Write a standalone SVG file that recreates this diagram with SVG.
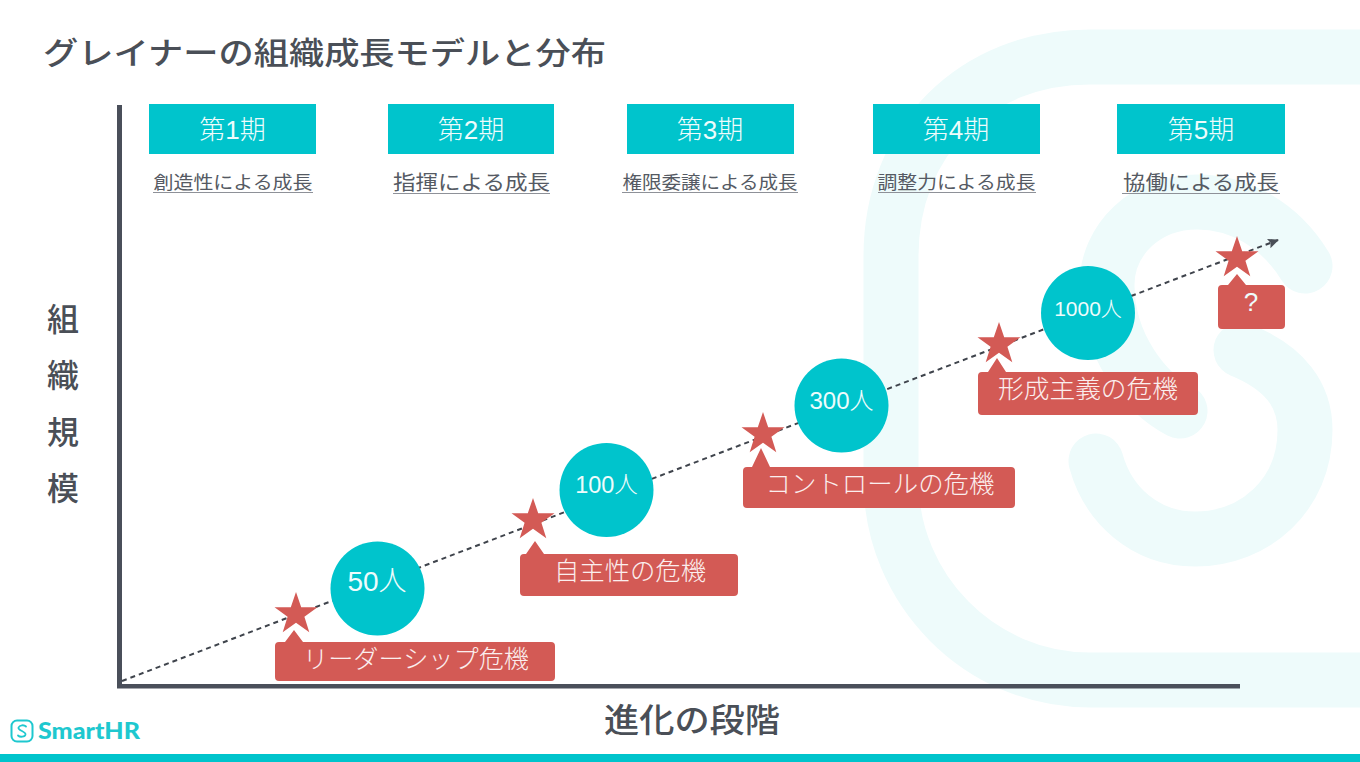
<svg xmlns="http://www.w3.org/2000/svg" width="1360" height="762" viewBox="0 0 1360 762">
<style>
text{font-family:"Noto Sans CJK JP","Noto Sans",sans-serif;text-anchor:middle}
.bg{fill:none;stroke:#eefbfb;stroke-width:55;stroke-linecap:round}
.hd{fill:#00c4cc}
.ht{fill:#eefcfc;font-size:26px;font-weight:300;font-family:"Liberation Sans","Noto Sans CJK JP",sans-serif}
.sub{fill:#555a63;font-size:18px}
.ul{stroke:#8e9198;stroke-width:1.2}
.cir{fill:#00c4cc}
.ct{fill:#eefcfc;font-weight:300;font-family:"Liberation Sans","Noto Sans CJK JP",sans-serif}
.red{fill:#d35a55}
.rt{fill:#fbeeee;font-size:25px;font-weight:300}
.ax{fill:#4a4f5a}
.lab{fill:#4a4f57;font-weight:500}
</style>
<defs>
<marker id="ah" markerUnits="userSpaceOnUse" markerWidth="12" markerHeight="10" refX="10" refY="5" orient="auto"><path d="M0,0L11,5L0,10L2,5Z" fill="#4a4f57"/></marker>
<path id="star" d="M0,-22L5.2,-6.8L21.5,-6.8L8.4,2.8L13.3,18.2L0,8.8L-13.3,18.2L-8.4,2.8L-21.5,-6.8L-5.2,-6.8Z"/>
</defs>
<g id="background-mark">
<path class="bg" d="M1360,57H1090C975,57 891,140 891,256V480C891,590 980,680 1090,680H1360"/>
<path class="bg" d="M1305,266C1280,225 1240,202 1197,202C1145,202 1107,240 1107,285C1107,345 1145,393 1180,411"/>
<path class="bg" d="M1241,350C1285,368 1305,395 1305,430C1305,495 1255,539 1195,539C1145,539 1108,505 1096,461"/>
</g>
<text id="title" x="324.500" y="64" class="lab" style="font-size:31px" textLength="563" lengthAdjust="spacingAndGlyphs">グレイナーの組織成長モデルと分布</text>
<g id="axes">
<rect class="ax" x="117" y="105" width="5" height="583"/>
<rect class="ax" x="117" y="684" width="1123" height="4.500"/>
</g>
<g id="connectors">
<path d="M122,681L1278,240" fill="none" stroke="#3f444c" stroke-width="2" stroke-dasharray="5 4" marker-end="url(#ah)"/>
</g>
<g id="y-label" class="lab" style="font-size:32px">
<text x="63" y="331" class="lab">組</text><text x="63" y="387" class="lab">織</text><text x="63" y="444" class="lab">規</text><text x="63" y="500" class="lab">模</text>
</g>
<text id="x-label" x="692" y="732" class="lab" style="font-size:33px" textLength="176" lengthAdjust="spacingAndGlyphs">進化の段階</text>
<g id="period-1"><rect class="hd" x="149" y="104" width="167" height="50"/><text class="ht" x="232.500" y="139">第1期</text><text class="sub" x="233" y="189" textLength="159" lengthAdjust="spacingAndGlyphs">創造性による成長</text><path class="ul" d="M153,192.500H313"/></g>
<g id="period-2"><rect class="hd" x="388" y="104" width="166" height="50"/><text class="ht" x="471" y="139">第2期</text><text class="sub" x="471.500" y="190" textLength="157" lengthAdjust="spacingAndGlyphs" style="font-size:20px">指揮による成長</text><path class="ul" d="M393,193.500H550"/></g>
<g id="period-3"><rect class="hd" x="627" y="104" width="167" height="50"/><text class="ht" x="710" y="139">第3期</text><text class="sub" x="710" y="189" textLength="175" lengthAdjust="spacingAndGlyphs">権限委譲による成長</text><path class="ul" d="M622,192.500H798"/></g>
<g id="period-4"><rect class="hd" x="873" y="104" width="167" height="50"/><text class="ht" x="956" y="139">第4期</text><text class="sub" x="956.500" y="189" textLength="158" lengthAdjust="spacingAndGlyphs">調整力による成長</text><path class="ul" d="M878,192.500H1036"/></g>
<g id="period-5"><rect class="hd" x="1117" y="104" width="168" height="50"/><text class="ht" x="1201" y="139">第5期</text><text class="sub" x="1201" y="190" textLength="156" lengthAdjust="spacingAndGlyphs" style="font-size:20px">協働による成長</text><path class="ul" d="M1122,193.500H1280"/></g>
<g id="size-50"><circle class="cir" cx="377.500" cy="588.500" r="47"/><text class="ct" x="377" y="591" style="font-size:28px">50人</text></g>
<g id="size-100"><circle class="cir" cx="606.500" cy="490" r="47"/><text class="ct" x="606.500" y="493" style="font-size:23.500px">100人</text></g>
<g id="size-300"><circle class="cir" cx="841.500" cy="405.500" r="47"/><text class="ct" x="841.500" y="409" style="font-size:24px">300人</text></g>
<g id="size-1000"><circle class="cir" cx="1088" cy="313" r="47"/><text class="ct" x="1088" y="316" style="font-size:21px">1000人</text></g>
<g id="crisis-1"><use href="#star" class="red" x="296" y="614"/><path class="red" d="M279,642H285L294,630L303,642H551a4,4 0 0 1 4,4V677a4,4 0 0 1 -4,4H279a4,4 0 0 1 -4,-4V646a4,4 0 0 1 4,-4Z"/><text class="rt" x="416" y="668" textLength="226" lengthAdjust="spacingAndGlyphs">リーダーシップ危機</text></g>
<g id="crisis-2"><use href="#star" class="red" x="533" y="520"/><path class="red" d="M524,554H526L535,541L544,554H734a4,4 0 0 1 4,4V592a4,4 0 0 1 -4,4H524a4,4 0 0 1 -4,-4V558a4,4 0 0 1 4,-4Z"/><text class="rt" x="630" y="580" textLength="152" lengthAdjust="spacingAndGlyphs">自主性の危機</text></g>
<g id="crisis-3"><use href="#star" class="red" x="763" y="434"/><path class="red" d="M747,467H752L761,448L770,467H1011a4,4 0 0 1 4,4V504a4,4 0 0 1 -4,4H747a4,4 0 0 1 -4,-4V471a4,4 0 0 1 4,-4Z"/><text class="rt" x="880" y="493" textLength="229" lengthAdjust="spacingAndGlyphs">コントロールの危機</text></g>
<g id="crisis-4"><use href="#star" class="red" x="999" y="344"/><path class="red" d="M982,372H988L997,358L1006,372H1194a4,4 0 0 1 4,4V411a4,4 0 0 1 -4,4H982a4,4 0 0 1 -4,-4V376a4,4 0 0 1 4,-4Z"/><text class="rt" x="1088" y="398" textLength="180" lengthAdjust="spacingAndGlyphs">形成主義の危機</text></g>
<g id="crisis-5"><use href="#star" class="red" x="1237" y="258"/><path class="red" d="M1222,285H1228L1237,274L1246,285H1281a4,4 0 0 1 4,4V325a4,4 0 0 1 -4,4H1222a4,4 0 0 1 -4,-4V289a4,4 0 0 1 4,-4Z"/><text class="ct" x="1251" y="311" style="font-size:26px">?</text></g>
<g id="logo">
<rect x="11.500" y="720.500" width="21" height="21" rx="5.500" fill="none" stroke="#1ec8cf" stroke-width="2"/>
<path d="M26,726.500C24,724.500 19.500,725 18.500,727.500C17.500,730.500 26,731.500 25.500,734.500C25,737 20,737.500 18,735.500" fill="none" stroke="#1ec8cf" stroke-width="1.800" stroke-linecap="round"/>
<text x="89" y="739" style="font-family:Lato,sans-serif;font-weight:900;font-size:23px;fill:#1ec8cf" textLength="102" lengthAdjust="spacingAndGlyphs">SmartHR</text>
</g>
<rect id="bottom-bar" x="0" y="754" width="1360" height="8" fill="#00c4cc"/>
</svg>
